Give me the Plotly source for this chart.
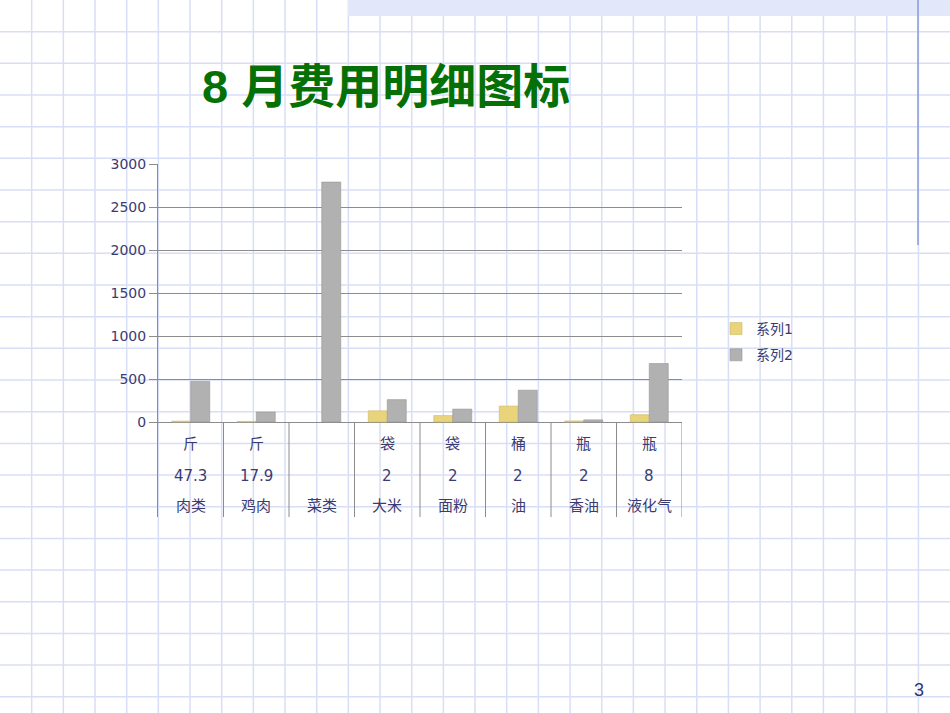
import plotly.graph_objects as go

# 8月费用明细 data
names = ['肉类', '鸡肉', '菜类', '大米', '面粉', '油', '香油', '液化气']
units = ['斤', '斤', '', '袋', '袋', '桶', '瓶', '瓶']
qty = ['47.3', '17.9', '', '2', '2', '2', '2', '8']
series1 = [10, 6.5, None, 130, 75, 185, 12.5, 85]
series2 = [473, 116, 2790, 260, 150, 370, 25, 680]
y_ticks = [0, 500, 1000, 1500, 2000, 2500, 3000]

W, H = 950, 713
txt_col = '#3b3b72'
axis_col = '#8c8c8c'
font_fam = 'DejaVu Sans, Noto Sans CJK SC, sans-serif'


def px(x):
    return x / W


def py(y):
    return 1 - y / H


# y range chosen so 0 sits at 422px and 3000 at 164px, axis runs down to 517px
y_top_px, y_zero_px, y_bot_px = 164, 422, 517
per_px = 3000 / (y_zero_px - y_top_px)
y_min = -(y_bot_px - y_zero_px) * per_px

fig = go.Figure()
fig.add_trace(go.Bar(x=list(range(len(names))), y=series1, name='系列1',
                     marker=dict(color='#e9d47c', line=dict(color='#c9b865', width=0.6)),
                     legendgroup='a'))
fig.add_trace(go.Bar(x=list(range(len(names))), y=series2, name='系列2',
                     marker=dict(color='#b1b1b1', line=dict(color='#959595', width=0.6)),
                     legendgroup='b'))

shapes = []
# notebook grid background
step = 31.67
k = 1
while k * step < W:
    shapes.append(dict(type='line', xref='paper', yref='paper', x0=px(k * step), x1=px(k * step),
                       y0=0, y1=1, line=dict(color='#d8def5', width=1.5), layer='below'))
    k += 1
k = 1
while k * step < H:
    shapes.append(dict(type='line', xref='paper', yref='paper', x0=0, x1=1,
                       y0=py(k * step), y1=py(k * step), line=dict(color='#d8def5', width=1.5), layer='below'))
    k += 1
# top band and right rule
shapes.append(dict(type='rect', xref='paper', yref='paper', x0=px(348), x1=1, y0=py(16), y1=1,
                   fillcolor='#e2e8f9', line=dict(width=0), layer='below'))
shapes.append(dict(type='line', xref='paper', yref='paper', x0=px(918), x1=px(918), y0=py(245), y1=1,
                   line=dict(color='#8a99dd', width=1.5)))
# category dividers
for i in range(len(names)):
    shapes.append(dict(type='line', xref='x', yref='y', x0=i + 0.5, x1=i + 0.5, y0=y_min, y1=0,
                       line=dict(color=axis_col, width=1)))

annotations = []
for i in range(len(names)):
    for row, lab in zip([444, 476, 506], [units[i], qty[i], names[i]]):
        if lab:
            annotations.append(dict(x=i, y=-(row - y_zero_px) * per_px, xref='x', yref='y', text=lab,
                                    showarrow=False, font=dict(size=15, color=txt_col, family=font_fam)))

annotations.append(dict(x=px(200), y=py(87), xref='paper', yref='paper', xanchor='left', yanchor='middle',
                        text='<b>8 月费用明细图标</b>', showarrow=False,
                        font=dict(size=47, color='#057005', family='Liberation Sans, Noto Sans CJK SC')))
annotations.append(dict(x=px(919), y=py(690), xref='paper', yref='paper', xanchor='center', yanchor='middle',
                        text='3', showarrow=False,
                        font=dict(size=18, color='#333377', family='Liberation Sans')))

fig.update_layout(
    template='none',
    width=W, height=H,
    margin=dict(l=0, r=0, t=0, b=0, pad=0),
    paper_bgcolor='white',
    plot_bgcolor='rgba(0,0,0,0)',
    barmode='group',
    bargap=0.42,
    bargroupgap=0,
    showlegend=True,
    legend=dict(x=px(716), y=py(313), xanchor='left', yanchor='top', traceorder='grouped',
                tracegroupgap=5, bgcolor='rgba(0,0,0,0)',
                font=dict(size=14, color=txt_col, family=font_fam)),
    xaxis=dict(domain=[px(158), px(682)], range=[-0.5, len(names) - 0.5], automargin=False,
               showticklabels=False, showgrid=False, zeroline=False, showline=False, ticks=''),
    yaxis=dict(domain=[py(y_bot_px), py(y_top_px)], range=[y_min, 3000], automargin=False,
               tickvals=y_ticks, ticktext=[str(v) for v in y_ticks],
               showgrid=True, gridcolor=axis_col, gridwidth=1,
               zeroline=True, zerolinecolor=axis_col, zerolinewidth=1,
               showline=True, linecolor=axis_col, linewidth=1,
               ticks='outside', ticklen=8, tickcolor=axis_col,
               tickfont=dict(size=14, color=txt_col, family=font_fam)),
    shapes=shapes,
    annotations=annotations,
)

# pin the slide to the window's top-left corner (no default page margin)
pin = ("document.body.style.margin='0';"
       "var d=document.getElementById('{plot_id}');"
       "d.style.position='fixed';d.style.top='0';d.style.left='0';")
fig.write_html('out.html', config={'displayModeBar': False}, post_script=pin)
